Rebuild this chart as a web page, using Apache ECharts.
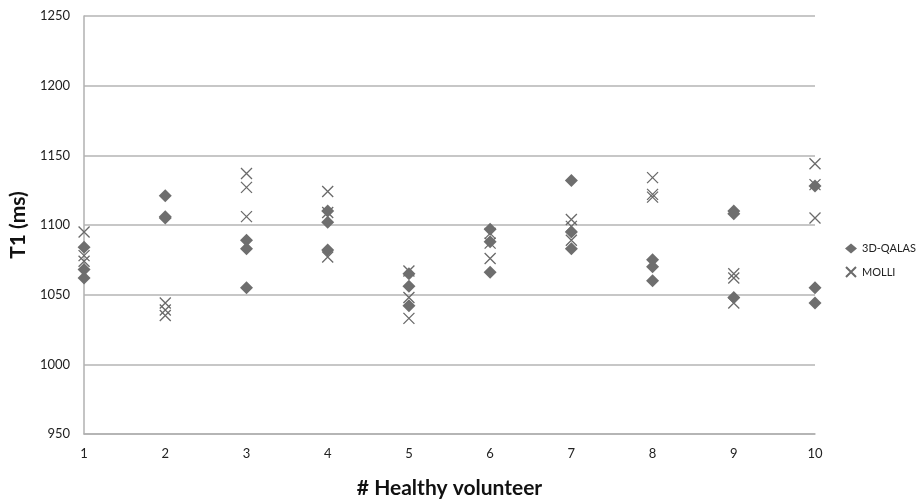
<!DOCTYPE html>
<html><head><meta charset="utf-8">
<script src="https://cdn.jsdelivr.net/npm/echarts@6/dist/echarts.min.js"></script>
<style>html,body{margin:0;padding:0;background:#fff}#c{width:922px;height:504px}</style>
</head><body><div id="c"></div>
<script>
const volunteers = [1,2,3,4,5,6,7,8,9,10];
const yTicks = [950,1000,1050,1100,1150,1200,1250];
const qalas = [
  [1084,1068,1062],
  [1121,1106,1105],
  [1089,1083,1055],
  [1110,1102,1082],
  [1065,1056,1042],
  [1097,1088,1066],
  [1132,1095,1083],
  [1075,1070,1060],
  [1110,1108,1048],
  [1128,1055,1044]
];
const molli = [
  [1095,1078,1074],
  [1044,1039,1035],
  [1137,1127,1106],
  [1124,1109,1077],
  [1067,1048,1033],
  [1094,1087,1076],
  [1104,1099,1089],
  [1134,1122,1120],
  [1065,1062,1044],
  [1144,1129,1105]
];
const toPts = arr => volunteers.flatMap((v,i)=>arr[i].map(y=>[v,y]));
const font = 'Lato, "Open Sans", sans-serif';
const chart = echarts.init(document.getElementById('c'));
chart.setOption({
  animation:false,
  textStyle:{fontFamily:font},
  grid:{left:83,right:107,top:16,bottom:66},
  xAxis:{type:'value',min:1,max:10,interval:1,
    name:'# Healthy volunteer',nameLocation:'middle',nameGap:44,
    nameTextStyle:{fontSize:21,fontWeight:'bold',color:'#111',fontFamily:font},
    axisLine:{lineStyle:{color:'#b0b0b0',width:1.5}},axisTick:{show:false},
    axisLabel:{color:'#222',fontSize:13,margin:13,fontFamily:font},
    splitLine:{show:false}},
  yAxis:{type:'value',min:yTicks[0],max:yTicks[yTicks.length-1],interval:50,
    name:'T1 (ms)',nameLocation:'middle',nameGap:54,nameRotate:90,
    nameTextStyle:{fontSize:21,fontWeight:'bold',color:'#111',fontFamily:font},
    axisLine:{show:true,lineStyle:{color:'#b0b0b0',width:1.5}},axisTick:{show:false},
    axisLabel:{color:'#222',fontSize:13,margin:14,fontFamily:font,formatter:v=>String(v)},
    splitLine:{lineStyle:{color:'#b5b5b5',width:1.5}}},
  legend:{orient:'vertical',left:840,top:238,itemGap:12,itemWidth:12,itemHeight:10,
    textStyle:{fontSize:11,color:'#222',fontFamily:font},
    data:['3D-QALAS','MOLLI']},
  series:[
    {name:'MOLLI',type:'scatter',symbol:'path://M0,0L10,10M10,0L0,10',symbolSize:11,z:2,
     itemStyle:{color:'rgba(0,0,0,0)',borderColor:'#6a6a6a',borderWidth:1.3,opacity:1},data:toPts(molli)},
    {name:'3D-QALAS',type:'scatter',symbol:'diamond',symbolSize:13,z:3,
     itemStyle:{color:'#6e6e6e',opacity:1},data:toPts(qalas)}
  ]
});
</script></body></html>
